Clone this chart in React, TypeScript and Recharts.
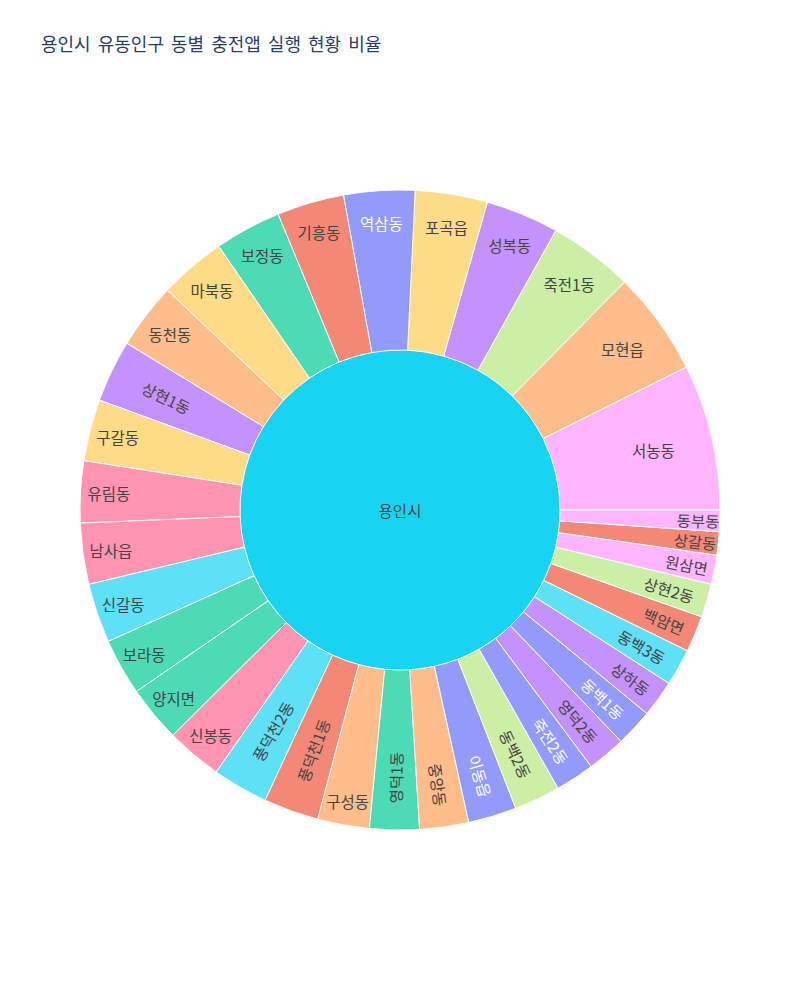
import { PieChart, Pie, Cell } from 'recharts'

// 용인시 유동인구 동별 충전앱 실행 현황 비율 (%), sorted like the original sunburst
const rootName = '용인시'

const dongNames = [
  '서농동', '모현읍', '죽전1동', '성복동', '포곡읍', '역삼동', '기흥동', '보정동', '마북동', '동천동',
  '상현1동', '구갈동', '유림동', '남사읍', '신갈동', '보라동', '양지면', '신봉동', '풍덕천2동', '풍덕천1동',
  '구성동', '영덕1동', '중앙동', '이동읍', '동백2동', '죽전2동', '영덕2동', '동백1동', '상하동', '동백3동',
  '백암면', '상현2동', '원삼면', '상갈동', '동부동',
]

const dongShares = [
  7.36, 5.25, 4.28, 3.69, 3.64, 3.58, 3.39, 3.36, 3.36, 3.33,
  3.14, 3.11, 3.11, 3.08, 3.0, 2.86, 2.83, 2.83, 2.81, 2.78,
  2.61, 2.5, 2.47, 2.44, 2.33, 1.97, 1.94, 1.89, 1.86, 1.86,
  1.83, 1.69, 1.47, 1.17, 1.08,
]

// plotly colorway
const BLUE = '#636EFA'
const RED = '#EF553B'
const GREEN = '#00CC96'
const PURPLE = '#AB63FA'
const ORANGE = '#FFA15A'
const CYAN = '#19D3F3'
const PINK = '#FF6692'
const LIME = '#B6E880'
const MAGENTA = '#FF97FF'
const YELLOW = '#FECB52'

const sliceColors = [
  MAGENTA, ORANGE, LIME, PURPLE, YELLOW, BLUE, RED, GREEN, YELLOW, ORANGE,
  PURPLE, YELLOW, PINK, PINK, CYAN, GREEN, GREEN, PINK, CYAN, RED,
  ORANGE, GREEN, ORANGE, BLUE, LIME, BLUE, PURPLE, BLUE, PURPLE, CYAN,
  RED, LIME, MAGENTA, RED, MAGENTA,
]

const W = 800
const H = 1000
const CX = 400
const CY = 510
const R_IN = 160
const R_OUT = 320
const FONT = 14.5 // size used for fitting
const FONT_DRAW = 15.5 // size actually drawn
const FONT_FAMILY = '"Noto Sans CJK KR", "Noto Sans", sans-serif'
const RAD = Math.PI / 180

const outerData = dongNames.map((name, i) => ({ name, value: dongShares[i] }))
const innerData = [{ name: rootName, value: dongShares.reduce((a, b) => a + b, 0) }]

// leaf opacity 0.7 over white
function leafColor(hex: string) {
  const n = parseInt(hex.slice(1), 16)
  const mix = (c: number) => Math.round(c * 0.7 + 255 * 0.3)
  return `rgb(${mix((n >> 16) & 255)}, ${mix((n >> 8) & 255)}, ${mix(n & 255)})`
}

function textColor(hex: string) {
  const n = parseInt(hex.slice(1), 16)
  const b = (((n >> 16) & 255) * 299 + ((n >> 8) & 255) * 587 + (n & 255) * 114) / 1000
  return b < 128 ? '#fff' : '#444'
}

// label placement in the style of plotly's "auto" inside text orientation
function renderDongLabel(props: any) {
  const { cx, cy, startAngle, endAngle, midAngle, index } = props
  const name: string = props.payload?.name ?? props.name
  const w = [...name].length * FONT
  const h = FONT * 1.31
  const half = (Math.abs(endAngle - startAngle) / 2) * RAD
  const ring = 1 - R_IN / R_OUT
  const rIns = Math.max(0, Math.min(1 / (1 + 1 / Math.sin(half)), ring / 2))

  let rCenter = 1 - rIns
  let rotate = 0
  const horizScale = (rIns * R_OUT * 2) / Math.hypot(w, h)

  if (horizScale < 1) {
    const r = R_OUT - 6
    const a = w / h
    const q = a + 1 / (2 * Math.tan(half))
    const s = r * Math.min(1 / (Math.sqrt(q * q + 0.5) + q), ring / (Math.sqrt(a * a + ring / 2) + a))
    if ((2 * s) / h > horizScale) {
      rCenter = Math.cos(s / r) - (a * s) / r
      rotate = -midAngle
      while (rotate <= -90) rotate += 180
      while (rotate > 90) rotate -= 180
    }
  }

  const x = cx + rCenter * R_OUT * Math.cos(midAngle * RAD)
  const y = cy - rCenter * R_OUT * Math.sin(midAngle * RAD)
  return (
    <text
      key={`lbl-${index}`}
      x={x}
      y={y}
      textAnchor="middle"
      dominantBaseline="central"
      transform={`rotate(${rotate} ${x} ${y})`}
      fontSize={FONT_DRAW}
      fontFamily={FONT_FAMILY}
      fill={textColor(sliceColors[index])}
    >
      {name}
    </text>
  )
}

function renderRootLabel(props: any) {
  const { cx, cy } = props
  return (
    <text
      key="root-lbl"
      x={cx}
      y={cy}
      textAnchor="middle"
      dominantBaseline="central"
      fontSize={FONT_DRAW}
      fontFamily={FONT_FAMILY}
      fill="#444"
    >
      {rootName}
    </text>
  )
}

export default function App() {
  return (
    <div style={{ position: 'absolute', left: 0, top: 0, width: W, height: H, background: '#fff' }}>
      <div
        style={{
          position: 'absolute',
          left: 41,
          top: 32,
          lineHeight: '22px',
          fontSize: 18,
          fontFamily: FONT_FAMILY,
          color: '#2a3f5f',
          wordSpacing: 3,
          whiteSpace: 'nowrap',
        }}
      >
        용인시 유동인구 동별 충전앱 실행 현황 비율
      </div>
      <PieChart width={W} height={H} margin={{ top: 0, right: 0, bottom: 0, left: 0 }}>
        <Pie
          data={innerData}
          dataKey="value"
          nameKey="name"
          cx={CX}
          cy={CY}
          innerRadius={0}
          outerRadius={R_IN}
          startAngle={0}
          endAngle={360}
          stroke="none"
          label={renderRootLabel}
          labelLine={false}
          isAnimationActive={false}
        >
          <Cell fill={CYAN} />
        </Pie>
        <Pie
          data={outerData}
          dataKey="value"
          nameKey="name"
          cx={CX}
          cy={CY}
          innerRadius={R_IN}
          outerRadius={R_OUT}
          startAngle={0}
          endAngle={360}
          stroke="#fff"
          strokeWidth={1}
          label={renderDongLabel}
          labelLine={false}
          isAnimationActive={false}
        >
          {outerData.map((d, i) => (
            <Cell key={d.name} fill={leafColor(sliceColors[i])} />
          ))}
        </Pie>
      </PieChart>
    </div>
  )
}
